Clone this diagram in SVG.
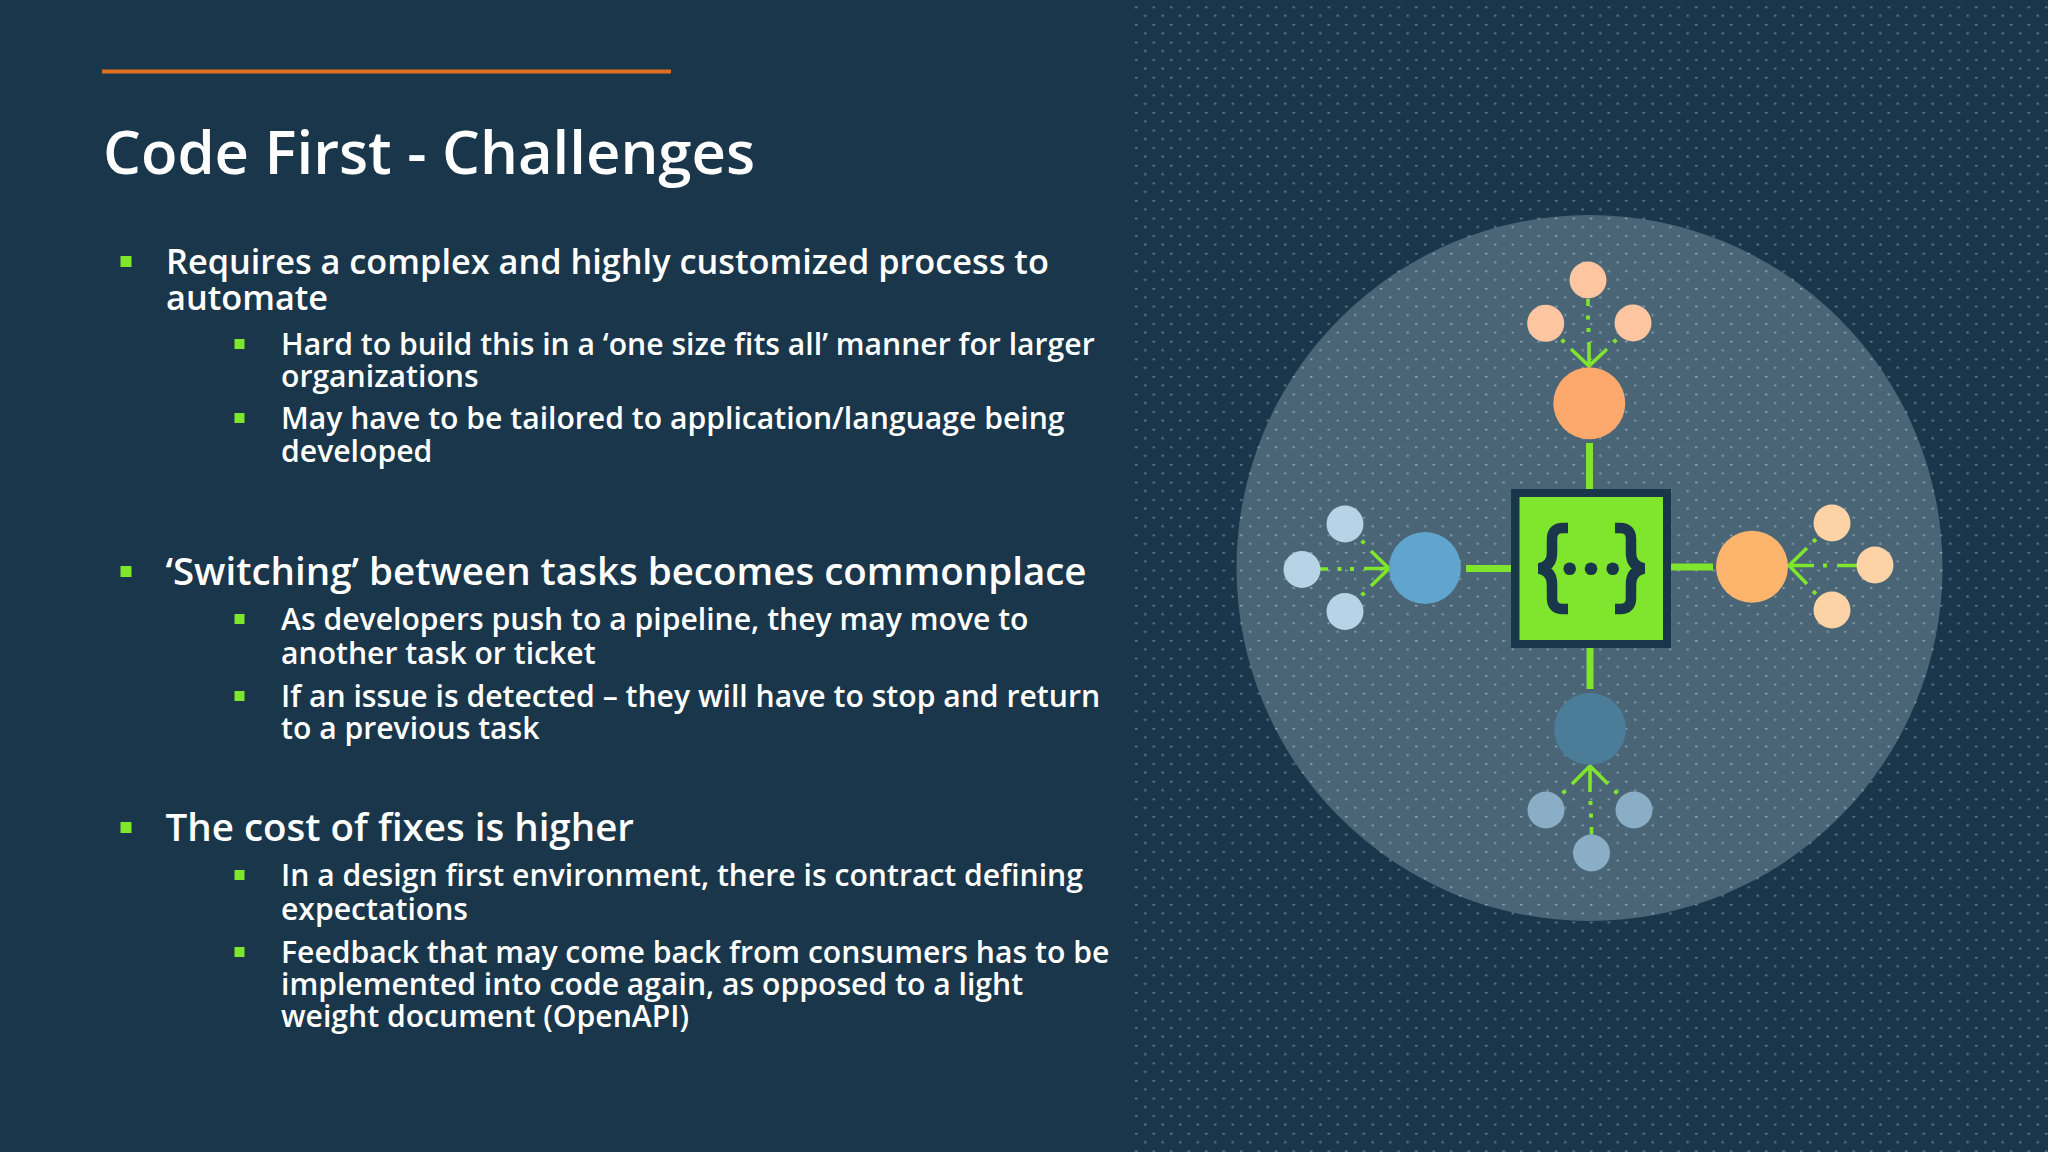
<svg xmlns="http://www.w3.org/2000/svg" width="2048" height="1152" viewBox="0 0 2048 1152">
<style>
text{font-family:"Open Sans","Noto Sans","Liberation Sans",sans-serif;font-weight:600;fill:#fff}
.t{font-size:59.800px}
.a{font-size:34.300px}
.c{font-size:38.500px}
.b{font-size:30.150px}
.bu{fill:#7fe52d}
.stem{stroke:#7fe52d;stroke-width:7;fill:none}
.ar{stroke:#7fe52d;stroke-width:3.6;fill:none}
.dd{fill:#7fe52d}
.br{stroke:#1a364a;stroke-width:10.500;fill:none}
</style>
<defs>
<pattern id="p1" x="1136" y="6.500" width="17.500" height="17.600" patternUnits="userSpaceOnUse">
<circle cx="0.500" cy="0.500" r="1.200" fill="#5a7a8e"/><circle cx="9.250" cy="9.300" r="1.200" fill="#5a7a8e"/>
<circle cx="17.500" cy="0.500" r="1.200" fill="#5a7a8e"/></pattern>
<pattern id="p2" x="1136" y="6.500" width="17.500" height="17.600" patternUnits="userSpaceOnUse">
<circle cx="0.500" cy="0.500" r="1.100" fill="#8fa8b7"/><circle cx="9.250" cy="9.300" r="1.100" fill="#8fa8b7"/>
<circle cx="17.500" cy="0.500" r="1.100" fill="#8fa8b7"/></pattern>
</defs>
<rect width="2048" height="1152" fill="#1a364a"/>
<rect x="1133" y="0" width="915" height="1152" fill="url(#p1)"/>
<circle cx="1589.500" cy="568" r="353" fill="#4a6575"/>
<circle cx="1589.500" cy="568" r="353" fill="url(#p2)"/>
<rect id="rule" x="102" y="69.500" width="569" height="4" fill="#e0701f"/>
<g id="heading"><text class="t" x="103" y="174">Code First - Challenges</text></g>
<g id="list">
<rect class="bu" x="120.500" y="256" width="11" height="11"/>
<text class="a" x="166" y="274">Requires a complex and highly customized process to</text>
<text class="a" x="166" y="310">automate</text>
<rect class="bu" x="234.500" y="339" width="10" height="10"/>
<text class="b" x="281" y="355">Hard to build this in a ‘one size fits all’ manner for larger</text>
<text class="b" x="281" y="387">organizations</text>
<rect class="bu" x="234.500" y="413" width="10" height="10"/>
<text class="b" x="281" y="429">May have to be tailored to application/language being</text>
<text class="b" x="281" y="462">developed</text>
<rect class="bu" x="120.500" y="566" width="11" height="11"/>
<text class="c" x="165.500" y="585">‘Switching’ between tasks becomes commonplace</text>
<rect class="bu" x="234.500" y="614" width="10" height="10"/>
<text class="b" x="281" y="630">As developers push to a pipeline, they may move to</text>
<text class="b" x="281" y="664">another task or ticket</text>
<rect class="bu" x="234.500" y="691" width="10" height="10"/>
<text class="b" x="281" y="707">If an issue is detected – they will have to stop and return</text>
<text class="b" x="281" y="739">to a previous task</text>
<rect class="bu" x="120.500" y="822" width="11" height="11"/>
<text class="c" x="165.500" y="841">The cost of fixes is higher</text>
<rect class="bu" x="234.500" y="870" width="10" height="10"/>
<text class="b" x="281" y="886">In a design first environment, there is contract defining</text>
<text class="b" x="281" y="920">expectations</text>
<rect class="bu" x="234.500" y="947" width="10" height="10"/>
<text class="b" x="281" y="963">Feedback that may come back from consumers has to be</text>
<text class="b" x="281" y="995">implemented into code again, as opposed to a light</text>
<text class="b" x="281" y="1027">weight document (OpenAPI)</text>
</g>
<g id="connectors">
<path class="stem" d="M1589.500 443V489M1466 568.500H1511M1671 567H1713M1590 648V689"/>
<path class="ar" d="M1588 299V306M1589 342V366M1571 349L1589 366L1607 349"/>
<path class="ar" d="M1320 569H1328M1364 568.500H1389M1371 551L1389 568.500L1371 586"/>
<path class="ar" d="M1857 565.500H1837M1814 565.500H1789M1807 548L1789 565.500L1807 584"/>
<path class="ar" d="M1591.500 827V834M1590 792V766M1572 784L1590 766L1608 784"/>
<g class="dd">
<rect x="1586" y="315.500" width="4" height="4"/><rect x="1586.500" y="328" width="4" height="4"/>
<rect x="1561" y="339" width="4" height="4" transform="rotate(45 1563 341)"/><rect x="1613" y="339" width="4" height="4" transform="rotate(45 1615 341)"/>
<rect x="1337.500" y="567" width="4" height="4"/><rect x="1350" y="567" width="4" height="4"/>
<rect x="1361" y="540" width="4" height="4" transform="rotate(45 1363 542)"/><rect x="1361" y="592" width="4" height="4" transform="rotate(45 1363 594)"/>
<rect x="1823" y="563.500" width="4" height="4"/>
<rect x="1812.500" y="538.500" width="4" height="4" transform="rotate(45 1814.500 540.500)"/><rect x="1812.500" y="590.500" width="4" height="4" transform="rotate(45 1814.500 592.500)"/>
<rect x="1588.500" y="801" width="4" height="4"/><rect x="1589" y="813.500" width="4" height="4"/>
<rect x="1562" y="790" width="4" height="4" transform="rotate(45 1564 792)"/><rect x="1614" y="790" width="4" height="4" transform="rotate(45 1616 792)"/>
</g>
</g>
<g id="node-top">
<circle cx="1588" cy="280" r="18.500" fill="#fdc5a0"/><circle cx="1545.700" cy="323.300" r="18.500" fill="#fdc5a0"/><circle cx="1633" cy="323" r="18.500" fill="#fdc5a0"/>
<circle cx="1589.300" cy="403.300" r="36" fill="#fda86c"/>
</g>
<g id="node-left">
<circle cx="1345" cy="524" r="18.500" fill="#b6d4e6"/><circle cx="1302" cy="569.500" r="18.500" fill="#b6d4e6"/><circle cx="1345" cy="611.500" r="18.500" fill="#b6d4e6"/>
<circle cx="1425" cy="568" r="36" fill="#5fa5cd"/>
</g>
<g id="node-right">
<circle cx="1832" cy="523" r="18.500" fill="#fdd3a6"/><circle cx="1875" cy="565" r="18.500" fill="#fdd3a6"/><circle cx="1832" cy="610" r="18.500" fill="#fdd3a6"/>
<circle cx="1752" cy="566.700" r="36" fill="#fdb56e"/>
</g>
<g id="node-bottom">
<circle cx="1546" cy="810" r="18.500" fill="#8aaec5"/><circle cx="1634" cy="810" r="18.500" fill="#8aaec5"/><circle cx="1591.500" cy="853" r="18.500" fill="#8aaec5"/>
<circle cx="1590" cy="729" r="36" fill="#4b7c98"/>
</g>
<g id="node-center">
<rect x="1511" y="489" width="160" height="159" fill="#1a364a"/>
<rect x="1519.500" y="497" width="143.500" height="143" fill="#7fe52d"/>
<path class="br" d="M1568 528H1563Q1552 528 1552 539V553Q1552 566 1539 568.500Q1552 571 1552 584V598Q1552 609 1563 609H1568"/>
<path class="br" d="M1615 528H1620Q1631 528 1631 539V553Q1631 566 1644 568.500Q1631 571 1631 584V598Q1631 609 1620 609H1615"/>
<circle cx="1569.700" cy="568.700" r="6.300" fill="#1a364a"/><circle cx="1591" cy="568.700" r="6.300" fill="#1a364a"/><circle cx="1612.700" cy="568.700" r="6.300" fill="#1a364a"/>
</g>
</svg>
